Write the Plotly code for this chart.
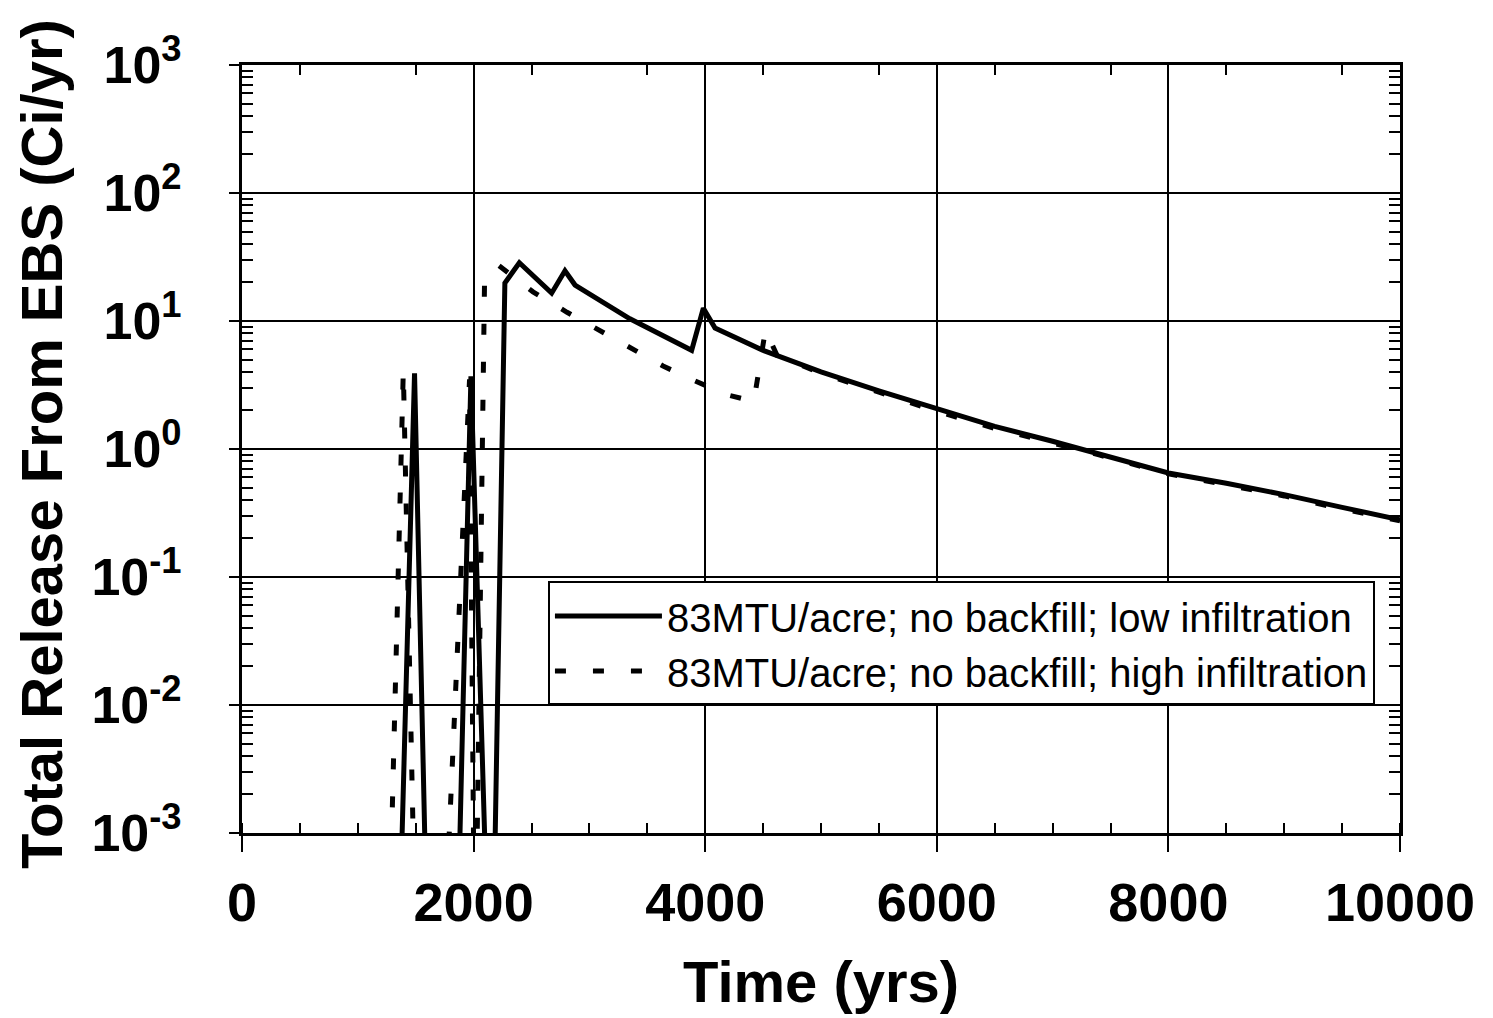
import plotly.graph_objects as go

# ---- data ----
time_low = [1380, 1490, 1580, 1880, 1977, 2098, 2185, 2270, 2395, 2674, 2789, 2876,
            3350, 3883, 3984, 4085, 4500, 5000, 5500, 6000, 6500, 7000, 7400,
            8000, 8500, 9000, 9500, 10000]
release_low = [8e-4, 3.9, 8e-4, 8e-4, 3.7, 8e-4, 8e-4, 19.8, 28.5, 16.5, 24.7, 19.1,
               10.4, 5.9, 12.6, 8.8, 5.9, 4.0, 2.85, 2.05, 1.5, 1.15, 0.92,
               0.65, 0.54, 0.44, 0.35, 0.28]

time_high = [1290, 1393, 1480, 1785, 1965, 2000, 2030, 2095, 2220, 2513, 2807, 3074,
             3351, 3636, 3912, 4197, 4420, 4520, 4620, 5000, 5500, 6000, 6500,
             7000, 7400, 8000, 8500, 9000, 9500, 10000]
release_high = [8e-4, 4.1, 8e-4, 8e-4, 3.5, 8e-4, 8e-4, 22, 27, 16.9, 11.7, 8.5,
                6.2, 4.45, 3.4, 2.64, 2.35, 8.5, 5.4, 3.9, 2.78, 1.97, 1.45,
                1.12, 0.9, 0.64, 0.53, 0.43, 0.34, 0.275]

name_low = "83MTU/acre; no backfill; low infiltration"
name_high = "83MTU/acre; no backfill; high infiltration"

y_tickvals = [1e-3, 1e-2, 1e-1, 1e0, 1e1, 1e2, 1e3]
y_ticktext = ["10<sup>-3</sup>", "10<sup>-2</sup>", "10<sup>-1</sup>", "10<sup>0</sup>",
              "10<sup>1</sup>", "10<sup>2</sup>", "10<sup>3</sup>"]
x_tickvals = [0, 2000, 4000, 6000, 8000, 10000]
x_ticktext = ["0", "2000", "4000", "6000", "8000", "10000"]

x_title = "Time (yrs)"
y_title = "Total Release From EBS (Ci/yr)"

# minor log ticks 2..9 per decade
y_minor = [k * 10 ** e for e in range(-3, 3) for k in range(2, 10)]

FONT = "Liberation Sans, Arial, Helvetica, sans-serif"

fig = go.Figure()
fig.add_trace(go.Scatter(x=time_low, y=release_low, mode="lines", name=name_low,
                         line=dict(color="black", width=5)))
fig.add_trace(go.Scatter(x=time_high, y=release_high, mode="lines", name=name_high,
                         line=dict(color="black", width=5, dash="11px,27px")))
# dummy trace to draw mirrored (top/right) minor ticks
fig.add_trace(go.Scatter(x=[None], y=[None], xaxis="x2", yaxis="y2",
                         showlegend=False, hoverinfo="skip"))

fig.update_layout(
    width=1485, height=1010, autosize=False,
    margin=dict(l=234, r=93, t=57, b=185),
    paper_bgcolor="white", plot_bgcolor="white",
    font=dict(family=FONT, color="black"),
    showlegend=True,
    legend=dict(x=0.2642, y=0.3275, xanchor="left", yanchor="top",
                bgcolor="white", bordercolor="black", borderwidth=2,
                font=dict(family=FONT, size=40, color="black"),
                tracegroupgap=0, itemwidth=107),
    xaxis=dict(range=[0, 10000], tickvals=x_tickvals, ticktext=x_ticktext,
               showgrid=True, gridcolor="black", gridwidth=2,
               showline=True, linecolor="black", linewidth=3, mirror=True,
               ticks="outside", ticklen=16, tickwidth=2, tickcolor="black",
               ticklabelstandoff=4,
               tickfont=dict(family=FONT, size=54, color="black", weight="bold"),
               minor=dict(ticks="inside", ticklen=10, tickwidth=2, tickcolor="black",
                          tick0=0, dtick=500, showgrid=False),
               zeroline=False, layer="above traces"),
    yaxis=dict(type="log", range=[-3, 3], tickvals=y_tickvals, ticktext=y_ticktext,
               showgrid=True, gridcolor="black", gridwidth=2,
               showline=True, linecolor="black", linewidth=3, mirror=True,
               ticks="outside", ticklen=10, tickwidth=2, tickcolor="black",
               ticklabelstandoff=37,
               tickfont=dict(family=FONT, size=52, color="black", weight="bold"),
               minor=dict(ticks="inside", ticklen=11, tickwidth=2, tickcolor="black",
                          tickmode="array", tickvals=y_minor, showgrid=False),
               zeroline=False, layer="above traces"),
    xaxis2=dict(overlaying="x", side="top", anchor="y2", matches="x", range=[0, 10000],
                showgrid=False, showline=False, ticks="", showticklabels=False,
                minor=dict(ticks="inside", ticklen=10, tickwidth=2, tickcolor="black",
                           tick0=0, dtick=500, showgrid=False),
                zeroline=False),
    yaxis2=dict(overlaying="y", side="right", anchor="x2", type="log", range=[-3, 3],
                showgrid=False, showline=False, ticks="", showticklabels=False,
                minor=dict(ticks="inside", ticklen=11, tickwidth=2, tickcolor="black",
                           tickmode="array", tickvals=y_minor, showgrid=False),
                zeroline=False),
    annotations=[
        dict(text=x_title, xref="paper", yref="paper", x=0.5, y=0,
             xanchor="center", yanchor="middle", yshift=-148, showarrow=False,
             font=dict(family=FONT, size=58, color="black", weight="bold")),
        dict(text=y_title, xref="paper", yref="paper", x=0, y=0.5, textangle=-90,
             xanchor="center", yanchor="middle", xshift=-201, yshift=5, showarrow=False,
             font=dict(family=FONT, size=58, color="black", weight="bold")),
    ],
)

fig.write_html("out.html")
